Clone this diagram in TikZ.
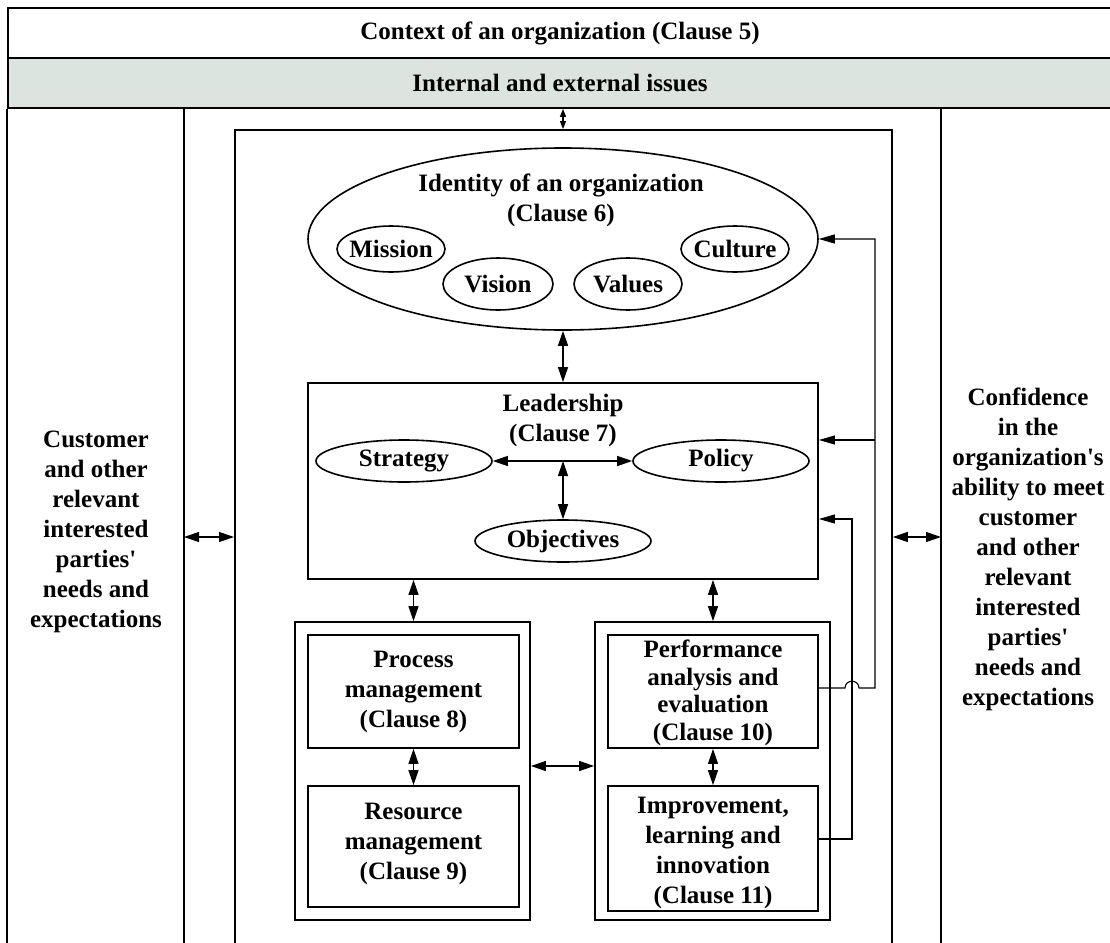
\documentclass[tikz,border=0pt]{standalone}
\usepackage{fontspec}
\setmainfont{Liberation Serif}[Ligatures=TeXOff]
\usetikzlibrary{arrows.meta,shapes.geometric}
\definecolor{bandgray}{RGB}{220,228,224}
\tikzset{
  frame/.style={draw, line width=1.8pt, inner sep=0pt},
  boxln/.style={line width=1.8pt},
  thinln/.style={line width=1.1pt},
  txt/.style={align=center, font=\fontsize{25}{30}\selectfont\bfseries, inner sep=0pt},
  oval/.style={ellipse, draw, line width=1.6pt, inner sep=0pt},
  dblarr/.style={{Triangle[length=15pt,width=10pt]}-{Triangle[length=15pt,width=10pt]}, line width=1.2pt},
  smalldbl/.style={{Triangle[length=8pt,width=6pt]}-{Triangle[length=8pt,width=6pt]}, line width=1.2pt},
  onearr/.style={-{Triangle[length=16pt,width=9pt]}},
}
\begin{document}
\begin{tikzpicture}[x=1pt,y=-1pt]
\useasboundingbox (0,0) rectangle (1110,942);
\clip (0,0) rectangle (1110,942);
\fill[white] (0,0) rectangle (1110,942);
% header
\node[frame, txt, minimum width=1104pt, minimum height=50pt] (ctx) at (560,33) {Context of an organization (Clause 5)};
\node[frame, txt, fill=bandgray, minimum width=1104pt, minimum height=50pt] (band) at (560,83) {Internal and external issues};
\draw[boxln] (band.south west) -- ++(0,900);
\draw[boxln] (band.south east) -- ++(0,900);
\coordinate (lline) at (184,537);
\coordinate (rline) at (941,537);
\draw[boxln] (lline |- band.south) -- ++(0,900);
\draw[boxln] (rline |- band.south) -- ++(0,900);
% side texts
\node[txt] (cust) at (96,532) {Customer\\and other\\relevant\\interested\\parties'\\needs and\\expectations};
\node[txt] (conf) at (1028,549) {Confidence\\in the\\organization's\\ability to meet\\customer\\and other\\relevant\\interested\\parties'\\needs and\\expectations};
% inner box
\node[frame, minimum width=657pt, minimum height=900pt, anchor=north west] (inner) at (234,129) {};
% identity
\node[oval, minimum width=510pt, minimum height=182pt] (identO) at (563,239) {};
\node[txt] (ident) at (561,200) {Identity of an organization\\(Clause 6)};
\node[oval, minimum width=108pt, minimum height=46pt] (missionO) at (391,249) {};
\node[txt] (mission) at (391,249) {Mission};
\node[oval, minimum width=110pt, minimum height=52pt] (visionO) at (498,284) {};
\node[txt] (vision) at (498,284) {Vision};
\node[oval, minimum width=108pt, minimum height=52pt] (valuesO) at (628,284) {};
\node[txt] (values) at (628,284) {Values};
\node[oval, minimum width=108pt, minimum height=46pt] (cultureO) at (735,249) {};
\node[txt] (culture) at (735,249) {Culture};
% leadership
\node[frame, minimum width=510pt, minimum height=196pt] (lead) at (563,481) {};
\node[txt] (leadt) at (563,420) {Leadership\\(Clause 7)};
\node[oval, minimum width=176pt, minimum height=42pt] (stratO) at (404,461) {};
\node[txt] (strat) at (404,461) {Strategy};
\node[oval, minimum width=176pt, minimum height=42pt] (polO) at (721,461) {};
\node[txt] (pol) at (721,461) {Policy};
\node[oval, minimum width=176pt, minimum height=42pt] (objO) at (563,541) {};
\node[txt] (obj) at (563,541) {Objectives};
% groups
\node[frame, minimum width=235pt, minimum height=298pt] (lgrp) at (412.5,771) {};
\node[frame, minimum width=235pt, minimum height=298pt] (rgrp) at (712.5,771) {};
\node[frame, minimum width=211pt, minimum height=113pt] (proc) at (413.5,691.5) {};
\node[txt] (proct) at (413.5,692) {Process\\management\\(Clause 8)};
\node[frame, minimum width=211pt, minimum height=121pt] (res) at (413.5,846.5) {};
\node[txt] (rest) at (413.5,844) {Resource\\management\\(Clause 9)};
\node[frame, minimum width=210pt, minimum height=113pt] (perf) at (713,691.5) {};
\node[txt, font=\fontsize{25}{27.5}\selectfont\bfseries] (perft) at (713,693) {Performance\\analysis and\\evaluation\\(Clause 10)};
\node[frame, minimum width=210pt, minimum height=125pt] (imp) at (713,848.5) {};
\node[txt] (impt) at (713,853) {Improvement,\\learning and\\innovation\\(Clause 11)};
% arrows
\draw[smalldbl] (band.south -| identO.north) -- (inner.north -| identO.north);
\draw[dblarr] (identO.south) -- (lead.north);
\draw[dblarr] (stratO.east) -- (polO.west);
\draw[dblarr] (objO.north |- stratO.east) -- (objO.north);
\draw[dblarr] (lline) -- (lline -| inner.west);
\draw[dblarr] (inner.east |- rline) -- (rline);
\draw[dblarr] (lead.south -| proc.north) -- (lgrp.north -| proc.north);
\draw[dblarr] (lead.south -| perf.north) -- (rgrp.north -| perf.north);
\draw[dblarr] (proc.south) -- (res.north);
\draw[dblarr] (perf.south) -- (imp.north);
\coordinate (midg) at (562,766);
\draw[dblarr] (lgrp.east |- midg) -- (rgrp.west |- midg);
% feedback
\coordinate (hop) at (852,688);
\coordinate (fbR) at (875,688);
\coordinate (fbM) at (875,440);
\coordinate (fbL) at (852,839);
\coordinate (fbT) at (852,519);
\draw[thinln, onearr] (perf.east |- hop) -- ([xshift=-7pt]hop) .. controls ([xshift=-7pt,yshift=9pt]hop) and ([xshift=7pt,yshift=9pt]hop) .. ([xshift=7pt]hop) -- (fbR) -- (fbR |- identO.east) -- (identO.east);
\draw[thinln, onearr] (fbM) -- (lead.east |- fbM);
\draw[thinln, onearr] (imp.east |- fbL) -- (fbL) -- (fbT) -- (lead.east |- fbT);
\end{tikzpicture}
\end{document}
